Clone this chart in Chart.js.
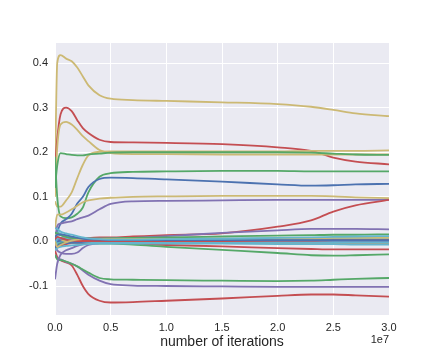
<!DOCTYPE html>
<html><head><meta charset="utf-8">
<script src="https://cdn.jsdelivr.net/npm/chart.js@4/dist/chart.umd.min.js"></script>
<style>html,body{margin:0;padding:0;background:#fff}</style>
</head><body>
<canvas id="c" width="432" height="360"></canvas>
<script>
// x positions (number of iterations)
const iterations = [0, 2e5, 5e5, 1e6, 1.5e6, 2e6, 2.5e6, 3e6, 4e6, 5e6, 7e6, 1e7, 1.5e7, 2e7, 2.3e7, 2.5e7, 2.7e7, 3e7];
const xTicks = [0, 5e6, 1e7, 1.5e7, 2e7, 2.5e7, 3e7];
const yTicks = [-0.1, 0.0, 0.1, 0.2, 0.3, 0.4];
const xLabel = "number of iterations";
const xOffsetLabel = "1e7";

// cluster of small coefficients
const s01 = [0.030, 0.028, 0.022, 0.018, 0.015, 0.012, 0.009, 0.007, 0.005, 0.004, 0.004, 0.005, 0.006, 0.008, 0.009, 0.010, 0.011, 0.012];
const s02 = [0.010, 0.015, 0.016, 0.014, 0.011, 0.008, 0.006, 0.005, 0.004, 0.003, 0.003, 0.003, 0.003, 0.003, 0.003, 0.003, 0.003, 0.003];
const s03 = [0.000, -0.012, -0.008, -0.002, 0.002, 0.004, 0.005, 0.005, 0.005, 0.005, 0.005, 0.005, 0.006, 0.007, 0.007, 0.008, 0.008, 0.008];
const s04 = [-0.020, -0.015, -0.012, -0.010, -0.009, -0.008, -0.007, -0.006, -0.005, -0.005, -0.005, -0.005, -0.005, -0.006, -0.006, -0.006, -0.007, -0.007];
const s05 = [0.005, 0.010, 0.008, 0.004, 0.002, 0.001, 0.001, 0.001, 0.001, 0.001, 0.001, 0.001, 0.001, 0.002, 0.002, 0.003, 0.003, 0.003];
const s06 = [0.020, 0.018, 0.014, 0.010, 0.008, 0.007, 0.006, 0.006, 0.006, 0.007, 0.008, 0.009, 0.011, 0.013, 0.014, 0.015, 0.015, 0.016];
const s07 = [-0.005, 0.005, 0.008, 0.006, 0.004, 0.002, 0.000, -0.001, -0.002, -0.002, -0.002, -0.002, -0.002, -0.002, -0.002, -0.002, -0.002, -0.002];
const s08 = [-0.015, -0.010, -0.006, -0.004, -0.003, -0.003, -0.003, -0.002, -0.002, -0.002, -0.002, -0.002, -0.002, -0.002, -0.002, -0.002, -0.002, -0.002];
const s09 = [0.000, 0.004, 0.006, 0.005, 0.004, 0.003, 0.002, 0.001, 0.000, 0.000, 0.000, -0.001, -0.001, -0.001, -0.001, -0.001, -0.001, -0.001];
const s10 = [0.015, 0.010, 0.005, 0.000, -0.003, -0.004, -0.004, -0.004, -0.004, -0.004, -0.004, -0.004, -0.004, -0.004, -0.004, -0.004, -0.004, -0.004];
const s11 = [0.010, 0.020, 0.017, 0.012, 0.009, 0.007, 0.005, 0.004, 0.002, 0.001, 0.001, 0.001, 0.001, 0.001, 0.000, 0.000, 0.000, 0.000];
const s12 = [-0.010, -0.012, -0.010, -0.006, -0.004, -0.003, -0.002, -0.002, -0.001, -0.001, -0.001, -0.001, 0.000, 0.000, 0.000, 0.001, 0.001, 0.001];
const s13 = [0.005, 0.000, 0.002, 0.003, 0.003, 0.002, 0.002, 0.001, 0.001, 0.000, 0.000, 0.000, 0.000, -0.001, -0.001, -0.001, -0.001, -0.001];
const s14 = [-0.008, -0.004, 0.000, 0.001, 0.001, 0.000, -0.001, -0.002, -0.003, -0.003, -0.003, -0.003, -0.003, -0.003, -0.004, -0.004, -0.004, -0.004];
const s15 = [0.000, -0.005, -0.006, -0.004, -0.002, -0.001, 0.000, 0.000, 0.001, 0.001, 0.001, 0.002, 0.002, 0.002, 0.002, 0.002, 0.002, 0.002];
const s16 = [0.012, 0.016, 0.014, 0.012, 0.010, 0.008, 0.007, 0.006, 0.006, 0.006, 0.006, 0.006, 0.006, 0.006, 0.006, 0.006, 0.006, 0.006];
const s17 = [-0.085, -0.050, -0.030, -0.020, -0.015, -0.010, -0.006, -0.004, -0.003, -0.002, -0.002, -0.002, -0.002, -0.002, -0.003, -0.003, -0.003, -0.003];
const s18 = [-0.010, -0.020, -0.025, -0.028, -0.028, -0.025, -0.015, -0.008, -0.004, -0.003, -0.003, -0.002, -0.002, -0.002, -0.002, -0.002, -0.002, -0.002];
// larger coefficients
const yellowTop = [0.150, 0.400, 0.418, 0.410, 0.404, 0.390, 0.370, 0.350, 0.328, 0.320, 0.317, 0.315, 0.312, 0.308, 0.302, 0.295, 0.287, 0.281];
const redTop = [0.165, 0.230, 0.285, 0.300, 0.292, 0.272, 0.254, 0.243, 0.228, 0.223, 0.222, 0.221, 0.218, 0.211, 0.203, 0.188, 0.179, 0.173];
const yellowPeak = [0.100, 0.210, 0.262, 0.268, 0.262, 0.250, 0.236, 0.225, 0.205, 0.198, 0.196, 0.196, 0.195, 0.195, 0.195, 0.195, 0.195, 0.195];
const yellowRise = [0.090, 0.078, 0.078, 0.092, 0.110, 0.142, 0.172, 0.193, 0.201, 0.202, 0.202, 0.202, 0.202, 0.202, 0.203, 0.203, 0.203, 0.204];
const greenHigh = [0.120, 0.170, 0.198, 0.196, 0.194, 0.193, 0.193, 0.195, 0.197, 0.199, 0.200, 0.200, 0.200, 0.200, 0.199, 0.197, 0.195, 0.194];
const greenMid = [0.190, 0.100, 0.056, 0.052, 0.054, 0.062, 0.076, 0.110, 0.145, 0.153, 0.156, 0.157, 0.158, 0.158, 0.157, 0.157, 0.157, 0.157];
const blueMid = [0.000, 0.020, 0.040, 0.050, 0.062, 0.085, 0.100, 0.122, 0.140, 0.143, 0.142, 0.139, 0.134, 0.128, 0.125, 0.126, 0.128, 0.129];
const yellowLow = [0.030, 0.060, 0.060, 0.065, 0.072, 0.080, 0.088, 0.092, 0.096, 0.098, 0.100, 0.101, 0.102, 0.102, 0.102, 0.101, 0.099, 0.097];
const purpleMid = [0.000, 0.035, 0.040, 0.043, 0.045, 0.050, 0.054, 0.058, 0.072, 0.084, 0.090, 0.091, 0.092, 0.093, 0.093, 0.093, 0.093, 0.093];
const redLate = [0.000, 0.000, 0.005, 0.007, 0.008, 0.008, 0.008, 0.008, 0.009, 0.009, 0.011, 0.014, 0.018, 0.033, 0.047, 0.067, 0.081, 0.093];
const purpleLate = [0.000, 0.002, 0.003, 0.003, 0.003, 0.003, 0.004, 0.004, 0.005, 0.006, 0.008, 0.012, 0.019, 0.025, 0.028, 0.028, 0.028, 0.027];
const greenNeg = [0.000, 0.000, -0.002, -0.003, -0.003, -0.004, -0.004, -0.004, -0.005, -0.005, -0.007, -0.012, -0.019, -0.026, -0.031, -0.032, -0.031, -0.029];
const redNeg = [0.000, -0.002, -0.003, -0.003, -0.003, -0.003, -0.003, -0.003, -0.004, -0.004, -0.005, -0.008, -0.011, -0.015, -0.017, -0.018, -0.018, -0.018];
const greenLow = [-0.030, -0.040, -0.042, -0.045, -0.050, -0.056, -0.063, -0.070, -0.082, -0.085, -0.086, -0.087, -0.088, -0.089, -0.088, -0.086, -0.084, -0.082];
const purpleLow = [-0.030, -0.038, -0.040, -0.046, -0.050, -0.056, -0.065, -0.075, -0.088, -0.096, -0.099, -0.100, -0.101, -0.102, -0.102, -0.102, -0.102, -0.102];
const redLow = [-0.020, -0.035, -0.042, -0.047, -0.054, -0.075, -0.100, -0.118, -0.133, -0.137, -0.136, -0.133, -0.128, -0.122, -0.119, -0.119, -0.121, -0.124];

const BLUE = '#4C72B0', GREEN = '#55A868', RED = '#C44E52', PURPLE = '#8172B2', YELLOW = '#CCB974', CYAN = '#64B5CD';

const series = [
  [s01, CYAN], [s02, BLUE], [s03, YELLOW], [s04, CYAN], [s05, RED], [s06, GREEN],
  [s07, CYAN], [s08, BLUE], [s09, PURPLE], [s10, YELLOW], [s11, CYAN], [s12, RED],
  [s13, BLUE], [s14, CYAN], [s15, GREEN], [s16, CYAN], [s17, PURPLE], [s18, PURPLE],
  [purpleLate, PURPLE], [greenNeg, GREEN], [redNeg, RED], [redLate, RED],
  [greenLow, GREEN], [purpleLow, PURPLE], [redLow, RED],
  [yellowLow, YELLOW], [purpleMid, PURPLE], [blueMid, BLUE], [greenMid, GREEN],
  [greenHigh, GREEN], [yellowRise, YELLOW], [yellowPeak, YELLOW], [redTop, RED], [yellowTop, YELLOW]
];

const datasets = series.map(([vals, col]) => ({
  data: iterations.map((x, i) => ({x: x, y: vals[i]})),
  borderColor: col,
  borderWidth: 1.8,
  pointRadius: 0,
  fill: false,
  cubicInterpolationMode: 'monotone'
}));

const bgPlugin = {
  id: 'bg',
  beforeDraw(chart) {
    const {ctx, chartArea: a} = chart;
    ctx.save();
    ctx.fillStyle = '#EAEAF2';
    ctx.fillRect(a.left, a.top, a.right - a.left, a.bottom - a.top);
    ctx.restore();
  },
  afterDraw(chart) {
    const {ctx, chartArea: a} = chart;
    ctx.save();
    ctx.fillStyle = '#262626';
    ctx.textBaseline = 'alphabetic';
    ctx.font = '14px "Liberation Sans", Arial, sans-serif';
    ctx.textAlign = 'center';
    ctx.fillText(xLabel, (a.left + a.right) / 2, 346);
    ctx.font = '11px "Liberation Sans", Arial, sans-serif';
    ctx.textAlign = 'right';
    ctx.fillText(xOffsetLabel, a.right, 343);
    ctx.restore();
  }
};

new Chart(document.getElementById('c'), {
  type: 'line',
  data: { datasets },
  options: {
    responsive: false,
    animation: false,
    layout: { padding: { top: 43, right: 43, bottom: 0, left: 0 } },
    plugins: { legend: { display: false }, tooltip: { enabled: false } },
    scales: {
      x: {
        type: 'linear', min: 0, max: 3e7,
        afterBuildTicks: s => { s.ticks = xTicks.map(v => ({value: v})); },
        afterFit: s => { s.height = 45; },
        grid: { color: '#FFFFFF', lineWidth: 1, drawTicks: false },
        border: { display: false },
        ticks: { color: '#262626', font: { family: '"Liberation Sans", Arial, sans-serif', size: 11 }, padding: 6,
                 callback: v => (v / 1e7).toFixed(1) }
      },
      y: {
        type: 'linear', min: -0.165, max: 0.445,
        afterBuildTicks: s => { s.ticks = yTicks.map(v => ({value: v})); },
        afterFit: s => { s.width = 55; },
        grid: { color: '#FFFFFF', lineWidth: 1, drawTicks: false },
        border: { display: false },
        ticks: { color: '#262626', font: { family: '"Liberation Sans", Arial, sans-serif', size: 11 }, padding: 7,
                 callback: v => v.toFixed(1) }
      }
    }
  },
  plugins: [bgPlugin]
});
</script>
</body></html>
